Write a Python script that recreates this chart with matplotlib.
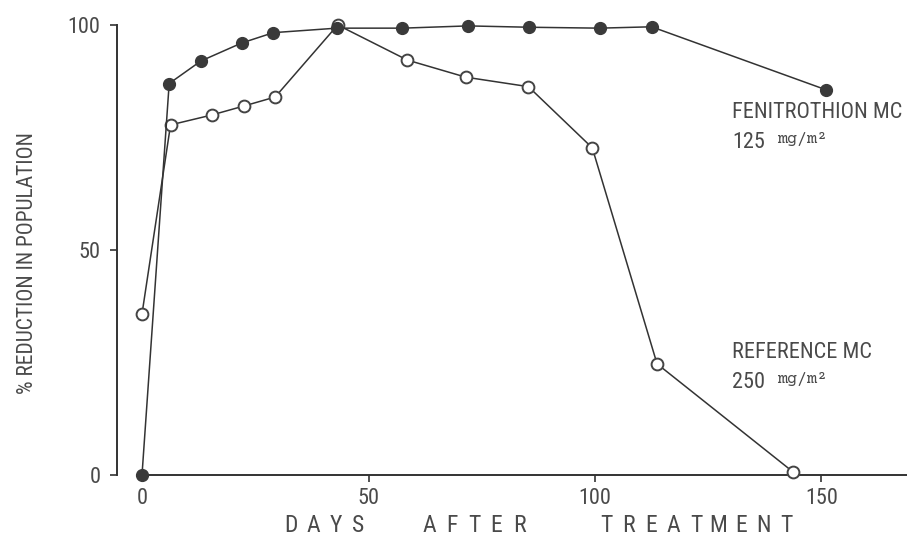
import matplotlib
matplotlib.use("Agg")
import matplotlib.pyplot as plt

# ---- data ----
days_fen = [0, 6, 13, 22, 29, 43, 57.5, 72, 85.5, 101, 112.5, 151]
pct_fen = [0, 87, 92, 96, 98.3, 99.3, 99.3, 99.8, 99.5, 99.3, 99.6, 85.6]
days_ref = [0, 6.3, 15.4, 22.5, 29.4, 43.2, 58.6, 71.5, 85.3, 99.4, 113.7, 143.7]
pct_ref = [35.8, 77.8, 80, 82, 84, 100, 92.2, 88.4, 86.3, 72.7, 24.7, 0.7]
xticks = [0, 50, 100, 150]
yticks = [0, 50, 100]
xlabel_words = ["DAYS", "AFTER", "TREATMENT"]
ylabel = "% REDUCTION IN POPULATION"
fen_name, fen_dose, unit = "FENITROTHION MC", "125", "mg/m²"
ref_name, ref_dose = "REFERENCE MC", "250"

W, H = 907, 541
fig = plt.figure(figsize=(W / 100, H / 100), dpi=100)
# pixel mapping: day 0 -> x 142, 4.53 px/day ; pct 0 -> y 475, 4.5 px/unit
x0, sx = 142, 4.53
y0, sy = 475, 4.5
ax_left, ax_right = 117, 907
xlim = ((ax_left - x0) / sx, (ax_right - x0) / sx)
ylim = (-2, 102)
top_px = y0 - ylim[1] * sy
bot_px = y0 - ylim[0] * sy
ax = fig.add_axes([ax_left / W, 1 - bot_px / H, (ax_right - ax_left) / W, (bot_px - top_px) / H])
ax.set_xlim(*xlim)
ax.set_ylim(*ylim)

font = ["Roboto Condensed", "DejaVu Sans"]
mono = ["Courier Prime", "Liberation Mono", "DejaVu Sans Mono"]
col = "#333333"
tcol = "#4a4a4a"
wt = "normal"

ax.plot(days_ref, pct_ref, "-", color=col, lw=1.1, marker="o", ms=8.5,
        mfc="white", mec="#444444", mew=1.4, clip_on=False, zorder=3)
ax.plot(days_fen, pct_fen, "-", color=col, lw=1.1, marker="o", ms=8.5,
        mfc="#3a3a3a", mec="#3a3a3a", clip_on=False, zorder=4)

for s in ["top", "right"]:
    ax.spines[s].set_visible(False)
ax.spines["left"].set_bounds(0, 100)
ax.spines["left"].set_color(col)
ax.spines["left"].set_linewidth(1.4)
ax.spines["bottom"].set_position(("data", 0))
ax.spines["bottom"].set_bounds(0, xlim[1])
ax.spines["bottom"].set_color(col)
ax.spines["bottom"].set_linewidth(1.4)

ax.set_xticks(xticks)
ax.set_yticks(yticks)
ax.tick_params(axis="y", direction="out", length=5, width=1.2, color=col, pad=7)
ax.tick_params(axis="x", direction="out", length=5, width=1.2, color=col, pad=4)
for lab in ax.get_xticklabels() + ax.get_yticklabels():
    lab.set_fontfamily(font)
    lab.set_fontsize(16)
    lab.set_fontweight(wt)
    lab.set_color(tcol)

# spaced x label, one letter at a time
pitch = 22.5
for word, start in zip(xlabel_words, [285, 423, 600]):
    for i, ch in enumerate(word):
        fig.text((start + 6 + i * pitch) / W, 1 - 526 / H, ch, ha="center", va="center",
                 family=font, fontsize=17, fontweight=wt, color=tcol)

fig.text(28 / W, 1 - 263 / H, ylabel, ha="center", va="center", rotation=90,
         family=font, fontsize=15.5, fontweight=wt, color=tcol)

def px2d(px, py):
    return ((px - x0) / sx, (y0 - py) / sy)

for name, dose, ny, dy in [(fen_name, fen_dose, 113, 142), (ref_name, ref_dose, 352, 382)]:
    ax.text(*px2d(732, ny), name, ha="left", va="center", family=font,
            fontsize=16, fontweight=wt, color=tcol)
    ax.text(*px2d(732, dy), dose, ha="left", va="center", family=font,
            fontsize=16, fontweight=wt, color=tcol)
    ax.text(*px2d(777, dy - 3), unit, ha="left", va="center",
            family=mono, fontsize=12, color=tcol)

fig.savefig("out.png", dpi=100)
